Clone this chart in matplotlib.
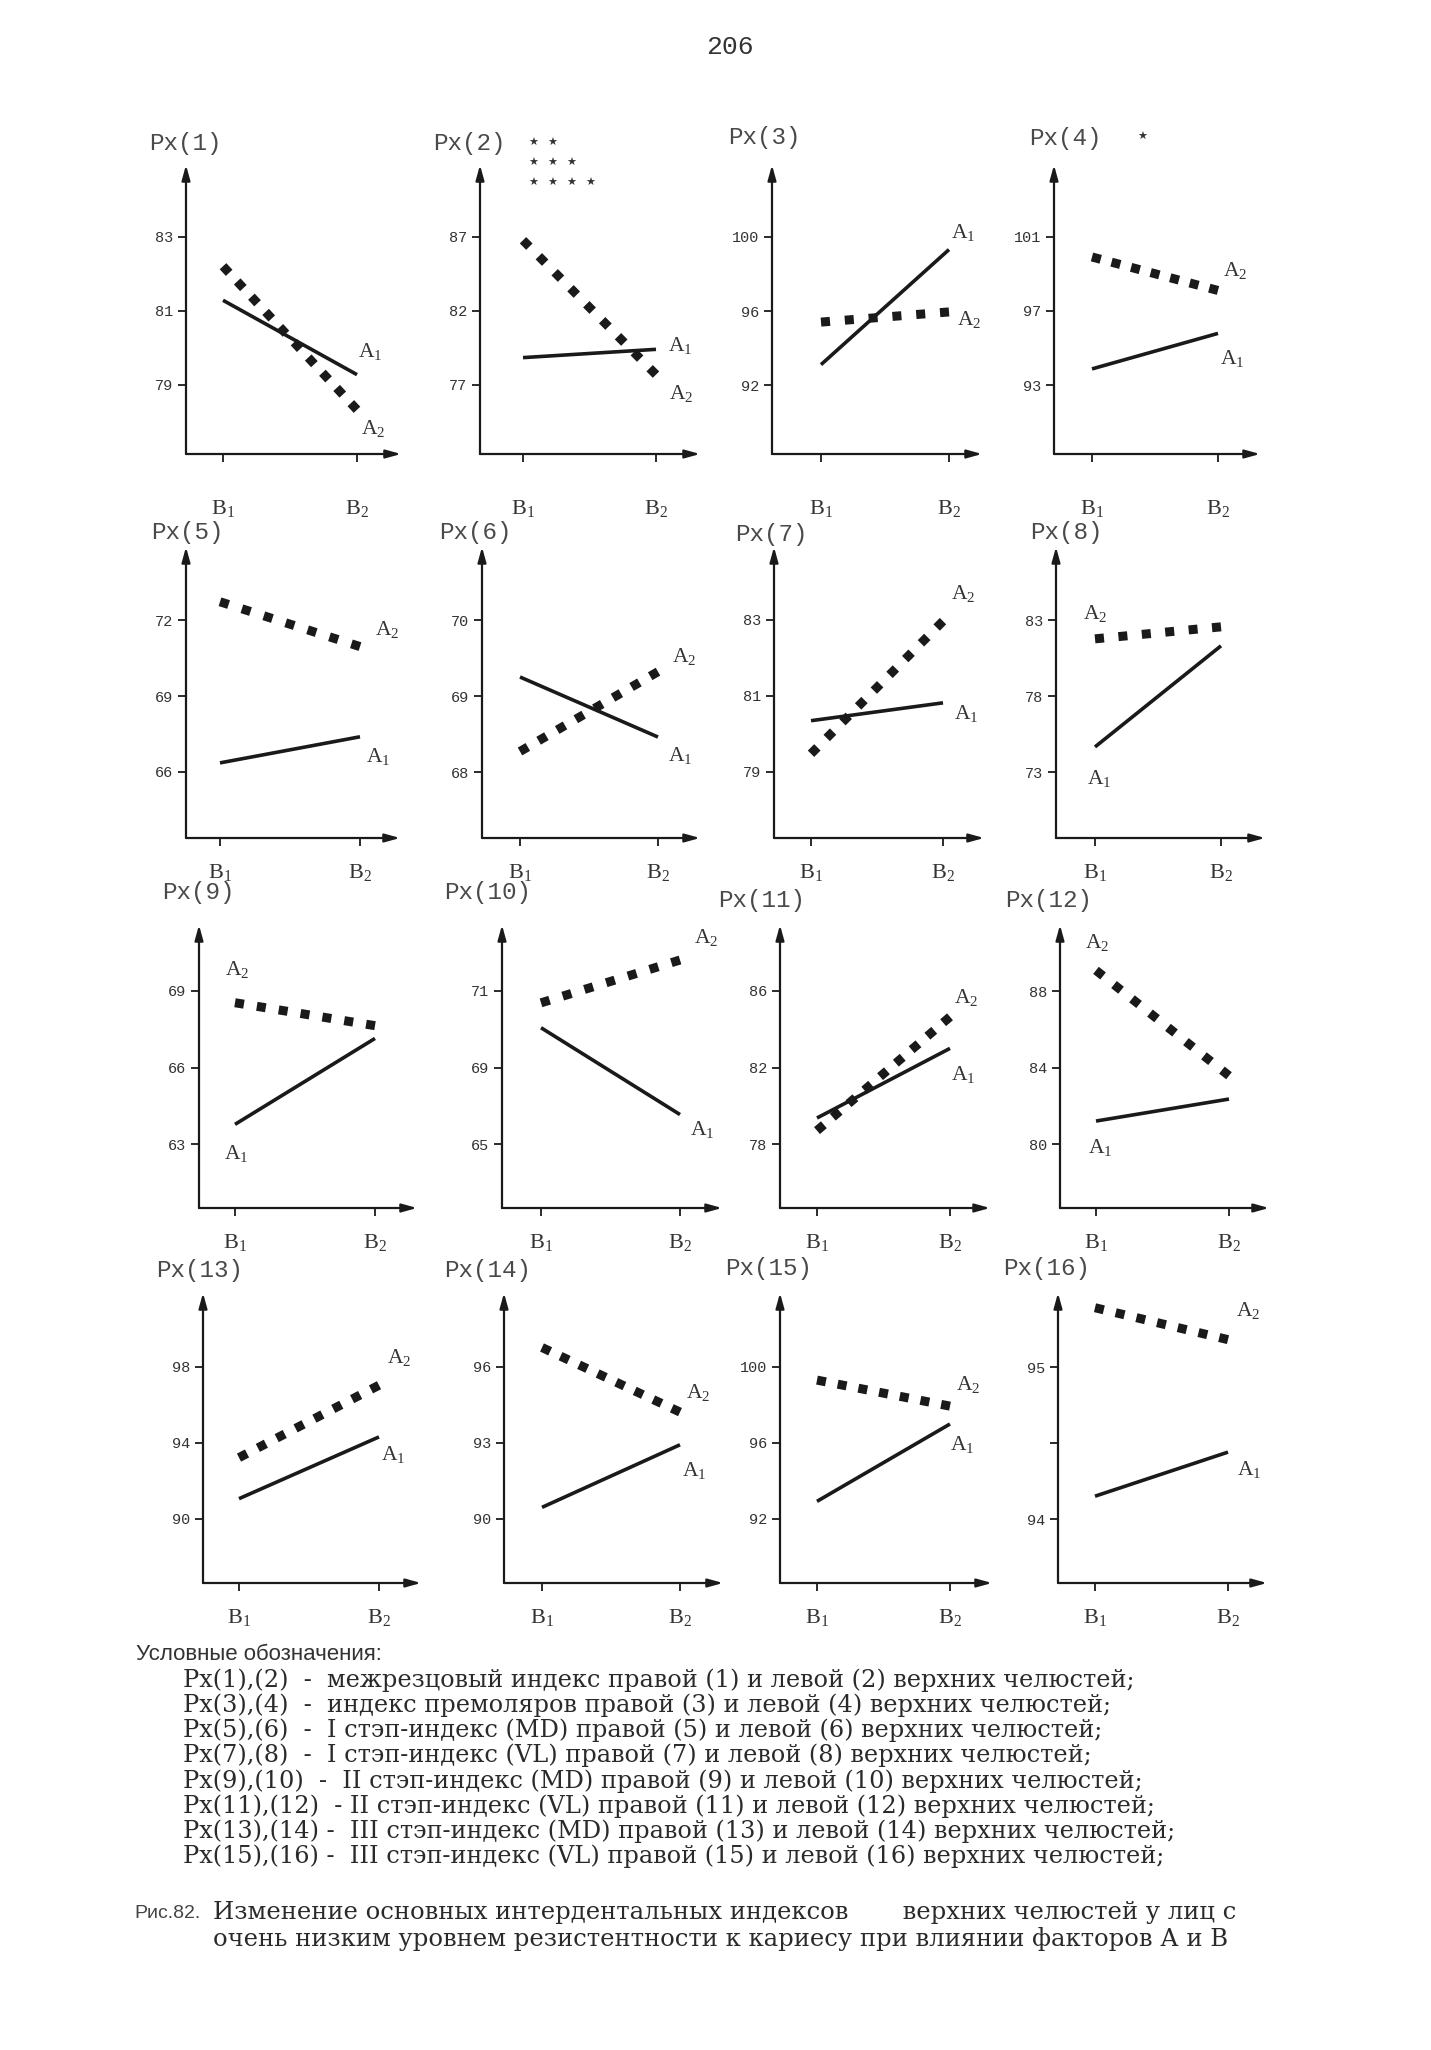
import matplotlib
matplotlib.use('Agg')
import matplotlib.pyplot as plt
import numpy as np

plt.rcParams['mathtext.fontset'] = 'custom'
plt.rcParams['mathtext.rm'] = 'Liberation Serif'
plt.rcParams['mathtext.it'] = 'Liberation Serif:italic'

# ---------------- data ----------------
panel_titles = ['Px(1)', 'Px(2)', 'Px(3)', 'Px(4)', 'Px(5)', 'Px(6)', 'Px(7)', 'Px(8)',
                'Px(9)', 'Px(10)', 'Px(11)', 'Px(12)', 'Px(13)', 'Px(14)', 'Px(15)', 'Px(16)']
categories = [r'$\mathrm{B}_{\mathrm{1}}$', r'$\mathrm{B}_{\mathrm{2}}$']
series_names = [r'$\mathrm{A}_{\mathrm{1}}$', r'$\mathrm{A}_{\mathrm{2}}$']

a1_values = [[81.29, 79.28], [78.85, 79.41], [93.1, 99.32], [93.87, 95.79],
             [66.36, 67.39], [69.25, 68.46], [80.35, 80.82], [74.65, 81.3],
             [63.77, 67.14], [70.04, 67.77], [79.36, 83.0], [81.2, 82.35],
             [91.07, 94.32], [90.46, 92.93], [92.93, 97.0], [94.15, 94.44]]
a2_values = [[82.21, 78.33], [86.78, 77.7], [95.4, 95.95], [99.92, 98.11],
             [72.72, 70.95], [68.27, 69.32], [79.48, 82.97], [81.76, 82.55],
             [68.54, 67.64], [70.69, 71.81], [78.7, 84.65], [89.08, 83.57],
             [93.23, 97.04], [96.77, 94.22], [99.31, 97.94], [95.39, 95.18]]
ytick_values = [[79, 81, 83], [77, 82, 87], [92, 96, 100], [93, 97, 101],
                [66, 69, 72], [68, 69, 70], [79, 81, 83], [73, 78, 83],
                [63, 66, 69], [67, 69, 71], [78, 82, 86], [80, 84, 88],
                [90, 94, 98], [90, 93, 96], [92, 96, 100], [94, 94.5, 95]]
ytick_labels = [['79', '81', '83'], ['77', '82', '87'], ['92', '96', '100'], ['93', '97', '101'],
                ['66', '69', '72'], ['68', '69', '70'], ['79', '81', '83'], ['73', '78', '83'],
                ['63', '66', '69'], ['65', '69', '71'], ['78', '82', '86'], ['80', '84', '88'],
                ['90', '94', '98'], ['90', '93', '96'], ['92', '96', '100'], ['94', '', '95']]

legend_title = 'Условные обозначения:'
legend_lines = [
    'Px(1),(2)  -  межрезцовый индекс правой (1) и левой (2) верхних челюстей;',
    'Px(3),(4)  -  индекс премоляров правой (3) и левой (4) верхних челюстей;',
    'Px(5),(6)  -  I стэп-индекс (MD) правой (5) и левой (6) верхних челюстей;',
    'Px(7),(8)  -  I стэп-индекс (VL) правой (7) и левой (8) верхних челюстей;',
    'Px(9),(10)  -  II стэп-индекс (MD) правой (9) и левой (10) верхних челюстей;',
    'Px(11),(12)  - II стэп-индекс (VL) правой (11) и левой (12) верхних челюстей;',
    'Px(13),(14) -  III стэп-индекс (MD) правой (13) и левой (14) верхних челюстей;',
    'Px(15),(16) -  III стэп-индекс (VL) правой (15) и левой (16) верхних челюстей;',
]
caption_label = 'Рис.82.'
caption_lines = ['Изменение основных интердентальных индексов       верхних челюстей у лиц с',
                 'очень низким уровнем резистентности к кариесу при влиянии факторов А и В']
page_number = '206'

# ---------------- layout (pixels) ----------------
W, H = 1431, 2050
row_tb = [(165, 454), (547, 838), (925, 1208), (1293, 1583)]
row_ticks_px = [(385, 237), (772, 620), (1144, 991), (1519, 1367)]
row_xpad = [26, 11, 11, 11]
panel_x = [(186, 401, 223, 357), (480, 700, 523, 656), (772, 982, 821, 949), (1054, 1260, 1092, 1218),
           (186, 400, 220, 360), (482, 700, 520, 658), (774, 984, 811, 943), (1056, 1265, 1095, 1221),
           (199, 417, 235, 375), (502, 722, 541, 680), (780, 990, 817, 950), (1060, 1269, 1096, 1229),
           (203, 421, 239, 379), (504, 723, 542, 680), (780, 992, 817, 950), (1058, 1267, 1095, 1228)]
title_pos = [(149, 143), (433, 143), (728, 137), (1029, 138),
             (151, 533), (439, 533), (735, 535), (1030, 533),
             (162, 893), (444, 893), (718, 900), (1005, 900),
             (156, 1270), (444, 1270), (725, 1268), (1003, 1268)]
# (anchor index, dx px, dy px) for A1 and A2
lab_a1 = [(1, 13, 23), (1, 24, 4), (1, 14, 17), (1, 14, -25), (1, 18, -20), (1, 22, -18), (1, 23, -11), (0, 4, -32),
          (0, 1, -29), (1, 22, -15), (1, 13, -26), (0, 4, -26), (1, 14, -18), (1, 14, -26), (1, 12, -21), (1, 21, -17)]
lab_a2 = [(1, 16, -19), (1, 25, -19), (1, 20, -8), (1, 17, 20), (1, 27, 17), (1, 26, 15), (1, 20, 28), (0, 0, 25),
          (0, 2, 33), (1, 26, 23), (1, 16, 19), (0, 1, 28), (1, 20, 28), (1, 18, 20), (1, 18, 22), (1, 20, 29)]

PX2PT = 72 / 100.0
ink = '#1a1a1a'
txt = '#333333'
A2_LW = 6.5          # points
A2_PERIOD = 22.0     # pixels between square centres

fig = plt.figure(figsize=(W / 100, H / 100), dpi=100)
fig.patch.set_facecolor('white')


def fitted_dash(ax, xs, ys):
    p = ax.transData.transform(np.column_stack([xs, ys]))
    length = float(np.hypot(*(p[1] - p[0])))
    on = A2_LW * 100 / 72.0
    n = max(1, int(round((length - on) / A2_PERIOD)))
    off = (length - on) / n - on
    return (0, (1, off / on))


for i in range(16):
    r = i // 4
    T, Bt = row_tb[r]
    L, R, x1, x2 = panel_x[i]
    ax = fig.add_axes([L / W, 1 - Bt / H, (R - L) / W, (Bt - T) / H])
    ax.patch.set_alpha(0)
    for s in ax.spines.values():
        s.set_visible(False)
    sc = float(x2 - x1)
    ax.set_xlim(-(x1 - L) / sc, (R - x1) / sc)
    ticks = ytick_values[i]
    p0, p2 = row_ticks_px[r]
    d = (p0 - p2) / 2.0
    step = ticks[1] - ticks[0]
    ax.set_ylim(ticks[0] - (Bt - p0) / d * step, ticks[0] + (p0 - T) / d * step)
    ap = dict(arrowstyle='-|>,head_length=0.9,head_width=0.25', color=ink, lw=1.6,
              shrinkA=0, shrinkB=0)
    ax.annotate('', xy=(0, 1), xytext=(0, 0), xycoords='axes fraction', arrowprops=ap)
    ax.annotate('', xy=(1, 0), xytext=(0, 0), xycoords='axes fraction', arrowprops=ap)
    ax.set_yticks(ticks)
    ax.set_yticklabels(ytick_labels[i], family='Liberation Mono', fontsize=11, color=txt)
    ax.set_xticks([0, 1])
    ax.set_xticklabels(categories, fontsize=16, color=txt)
    ax.tick_params(axis='y', direction='out', length=6, width=1.3, pad=3, colors=ink, labelcolor=txt)
    ax.tick_params(axis='x', direction='out', length=6, width=1.3, pad=row_xpad[r], colors=ink, labelcolor=txt)
    xs = [0, 1]
    ax.plot(xs, a1_values[i], color=ink, lw=2.6, solid_capstyle='butt', clip_on=False)
    ax.plot(xs, a2_values[i], color=ink, lw=A2_LW, linestyle=fitted_dash(ax, xs, a2_values[i]),
            dash_capstyle='butt', clip_on=False)
    for vals, (anc, dx, dy), name in ((a1_values[i], lab_a1[i], series_names[0]),
                                      (a2_values[i], lab_a2[i], series_names[1])):
        ax.annotate(name, xy=(xs[anc], vals[anc]), xytext=(dx * PX2PT, dy * PX2PT),
                    textcoords='offset points', ha='center', va='center',
                    fontsize=15.5, color=txt)
    tx, ty = title_pos[i]
    fig.text(tx / W, 1 - ty / H, panel_titles[i], family='Liberation Mono', fontsize=17.5,
             color='#4a4a4a', ha='left', va='center')

# significance stars
for k, n in enumerate([2, 3, 4]):
    for j in range(n):
        fig.text((533 + j * 19) / W, 1 - (143 + k * 20) / H, '★', family='DejaVu Sans',
                 fontsize=8, color=txt, ha='center', va='center')
fig.text(1142 / W, 1 - 137 / H, '★', family='DejaVu Sans', fontsize=8, color=txt,
         ha='center', va='center')

# page number
fig.text(730 / W, 1 - 47 / H, page_number, family='Liberation Mono', fontsize=19,
         color=txt, ha='center', va='center')

# legend block
renderer = fig.canvas.get_renderer()
LEG_FONT = 'DejaVu Serif'
probe = fig.text(0, 0, legend_lines[0], family=LEG_FONT, fontsize=10)
w10 = probe.get_window_extent(renderer).width
probe.remove()
fs_leg = 10 * (1136 - 183) / w10

fig.text(136 / W, 1 - 1655 / H, legend_title, family=['Liberation Sans Narrow', 'Liberation Sans'],
         fontsize=16, color='#333333', ha='left', va='center')
leg_y = [1680 + 25.2 * k for k in range(8)]
for ln, y in zip(legend_lines, leg_y):
    fig.text(183 / W, 1 - y / H, ln, family=LEG_FONT, fontsize=fs_leg,
             color='#2a2a2a', ha='left', va='center')

# caption
probe = fig.text(0, 0, caption_lines[1], family=LEG_FONT, fontsize=10)
wc = probe.get_window_extent(renderer).width
probe.remove()
fs_cap = 10 * (1228 - 213) / wc
fig.text(134 / W, 1 - 1913 / H, caption_label, family=['Liberation Sans Narrow', 'Liberation Sans'],
         fontsize=14, color='#444444', ha='left', va='center')
for ln, y in zip(caption_lines, [1913, 1939]):
    fig.text(213 / W, 1 - y / H, ln, family=LEG_FONT, fontsize=fs_cap,
             color='#2a2a2a', ha='left', va='center')

fig.savefig('out.png', dpi=100, facecolor='white')
